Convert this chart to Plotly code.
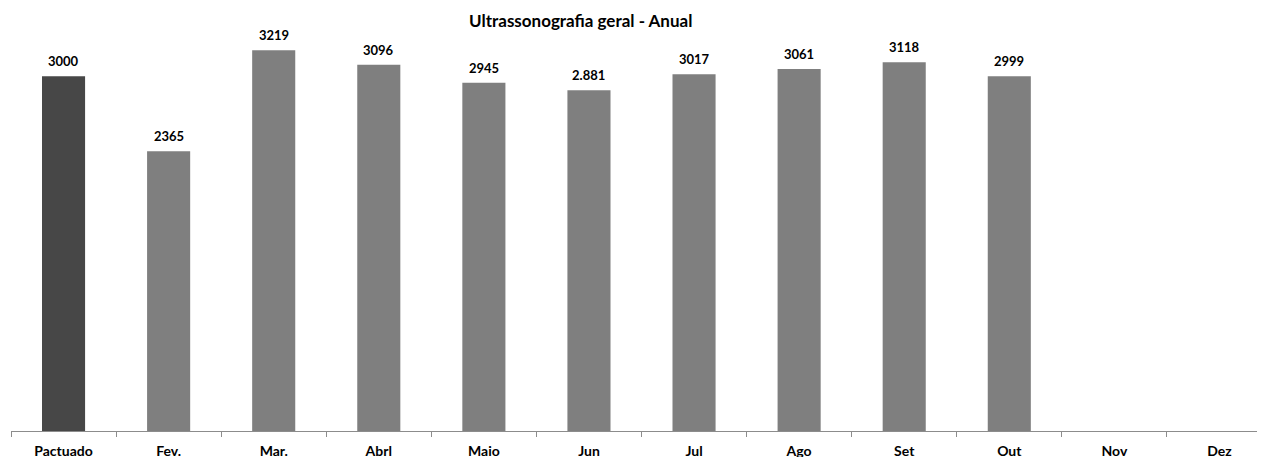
import plotly.graph_objects as go

categories = ["Pactuado", "Fev.", "Mar.", "Abrl", "Maio", "Jun", "Jul", "Ago", "Set", "Out", "Nov", "Dez"]
values = [3000, 2365, 3219, 3096, 2945, 2881, 3017, 3061, 3118, 2999, None, None]
labels = ["3000", "2365", "3219", "3096", "2945", "2.881", "3017", "3061", "3118", "2999", "", ""]
colors = ["#474747"] + ["#7f7f7f"] * 11

# page has an 8px body margin; compensate
W, H = 1265, 457
ml, mr, mt, mb = 3, 1, 9, 34

fig = go.Figure(go.Bar(
    x=categories, y=values,
    marker=dict(color=colors, line=dict(width=0)),
    cliponaxis=False, width=0.41, hoverinfo="x+y",
))

ann = []
for c, v, t in zip(categories, values, labels):
    if v is None:
        continue
    ann.append(dict(
        x=c, y=v, xref="x", yref="y", text=t, showarrow=False,
        yanchor="bottom", xanchor="center", yshift=5,
        font=dict(family="Lato", size=13, color="#000000", weight="bold"),
    ))
ann.append(dict(
    text="<b>Ultrassonografia geral - Anual</b>",
    xref="paper", yref="paper",
    x=(572 - ml) / (W - ml - mr), y=1, yanchor="middle", xanchor="center",
    yshift=-3, showarrow=False,
    font=dict(family="Lato", size=17, color="#000000"),
))

fig.update_layout(
    width=W, height=H,
    margin=dict(l=ml, r=mr, t=mt, b=mb, autoexpand=False),
    plot_bgcolor="white", paper_bgcolor="white",
    showlegend=False,
    font=dict(family="Lato", color="#000000"),
    annotations=ann,
)
fig.update_xaxes(
    type="category", showline=True, linecolor="#8c8c8c", linewidth=1,
    ticks="outside", tickson="boundaries", ticklen=5, tickcolor="#8c8c8c",
    tickfont=dict(family="Lato", size=14, color="#000000", weight="bold"),
    ticklabelstandoff=7,
    showgrid=False, range=[-0.5, 11.5], automargin=False,
)
fig.update_yaxes(visible=False, range=[0, 3500], showgrid=False, automargin=False)

fig.write_html("out.html")
